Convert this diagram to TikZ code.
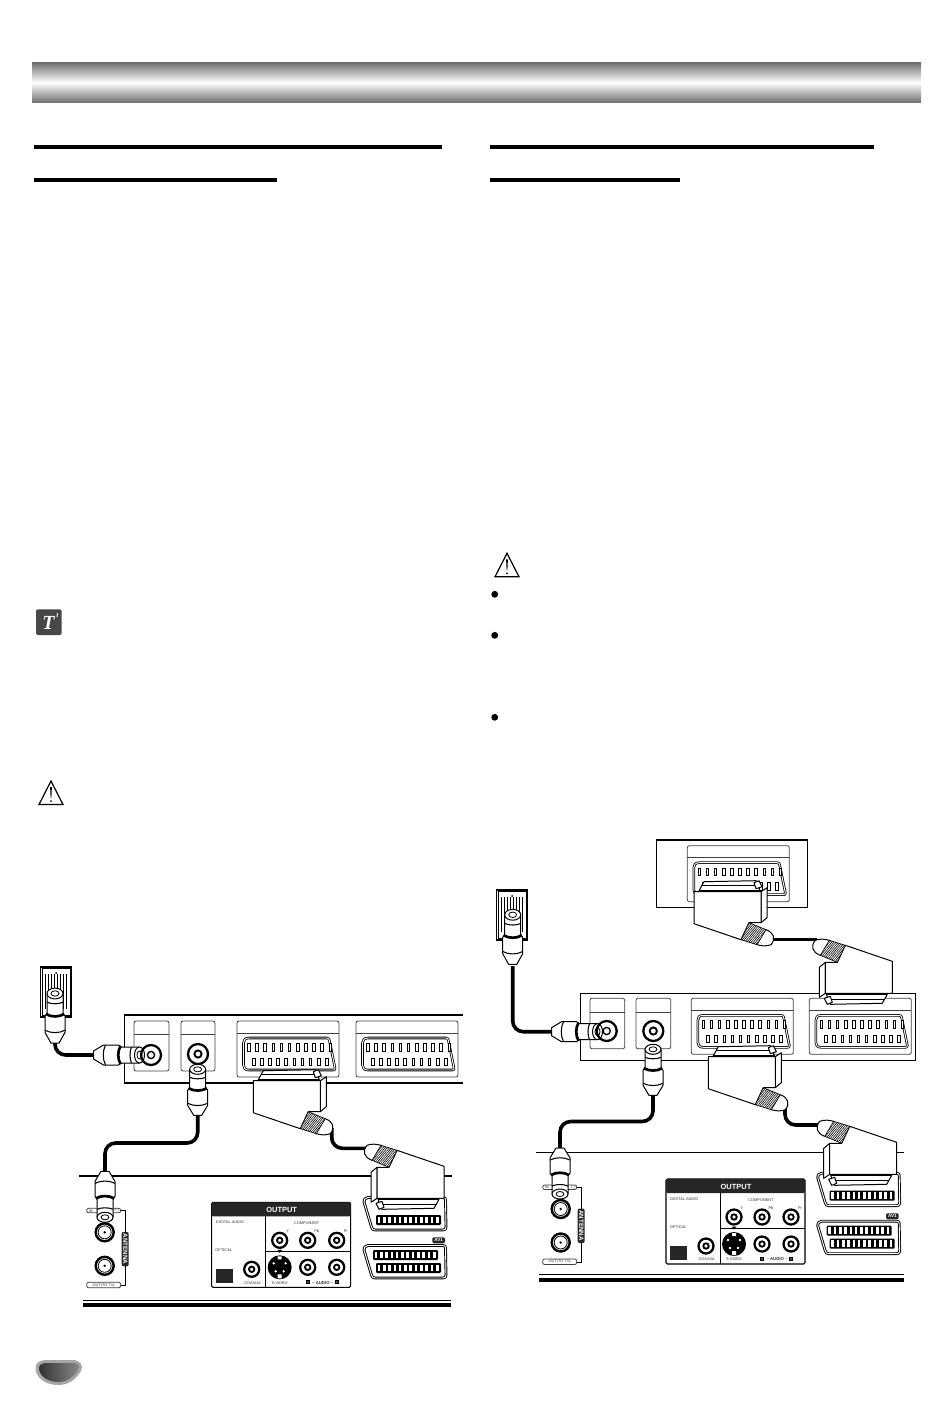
\documentclass[tikz,border=0pt]{standalone}
\usepackage{fontspec}
\setmainfont{Liberation Sans}
\newfontfamily\iconfont{Liberation Serif}
\usetikzlibrary{patterns.meta}
\tikzset{
  rule/.style={fill=black},
  cable/.style={line width=2.7pt,rounded corners=8pt},
  thinbox/.style={draw=black!75,line width=.6pt,rounded corners=1.5pt,fill=white},
  outline/.style={draw=black,line width=.75pt,line join=round,fill=white},
  socket/.style={draw=black,double=white,double distance=.7pt,line width=.6pt,line join=round,fill=white},
  pin/.style={draw=black,line width=.7pt,fill=white},
  lab/.style={font=\fontsize{2.9}{3}\selectfont,inner sep=0pt,text=black!80},
  whitelab/.style={font=\fontsize{3.4}{4}\selectfont\bfseries,inner sep=0pt,text=white},
}
\newcommand{\warnSign}[2]{\begin{scope}[shift={(#1,#2)}]
\draw[line width=.9pt,line join=miter] (-12,23.5) -- (0,0) -- (12,23.5) -- cycle;
\fill (-.9,6) -- (.9,6) -- (.35,17) -- (-.35,17) -- cycle;
\fill (0,20) circle[radius=1];
\end{scope}}
\newcommand{\jack}[3]{\draw[line width=1.7pt,fill=white] (#1,#2) circle[radius=#3];
\draw[line width=1.4pt] (#1,#2) circle[radius=.36*#3];}
\newcommand{\portRing}[3]{\draw[line width=1.7pt] (#1,#2) circle[radius=#3];
\draw[line width=1pt] (#1,#2) circle[radius=.36*#3];}
\newcommand{\coaxPlug}[4][]{\begin{scope}[shift={(#2,#3)},rotate=#4,#1]
\draw[outline] (-8,6) -- (-8,24) -- (-10,27) -- (-10,42) -- (-4,52) -- (4,52) -- (10,42) -- (10,27) -- (8,24) -- (8,6) -- cycle;
\draw[outline] (0,6) ellipse[x radius=8,y radius=5];
\draw[line width=.6pt] (0,6) ellipse[x radius=4,y radius=2.5];
\draw[line width=2pt] (-9,25) .. controls (-4,28) and (4,28) .. (9,25);
\draw[line width=.8pt] (-8,14) .. controls (-4,16) and (4,16) .. (8,14);
\draw[line width=.8pt] (-10,40) .. controls (-4,43) and (4,43) .. (10,40);
\end{scope}}
\newcommand{\scartPlug}[3]{\begin{scope}[shift={(#1,#2)},rotate=#3]
\draw[outline] (5,-1) -- (10,-10) -- (62,-11) -- (66,-1) -- cycle;
\draw[line width=.5pt] (8,-6) -- (63,-6);
\draw[outline] (62,-3) -- (68,-5) -- (65,-11) -- (60,-9) -- cycle;
\draw[outline] (67,0) -- (73,-4) -- (73,26) -- (67,31) -- cycle;
\draw[outline] (0,0) -- (67,0) -- (67,31) -- (55,31) -- (47,48) -- (0,32) -- cycle;
\draw[outline] (72,38) .. controls (80,41) and (82,47) .. (77,53) .. controls (72,55) and (67,54) .. (63,53);
\draw[line width=.5pt,pattern={Lines[angle=50,distance=1.25pt,line width=.45pt]},preaction={fill=white}] (55,31) -- (72,38) -- (63,53) -- (47,48) -- cycle;
\end{scope}}
\newcommand{\scartJack}[2]{\begin{scope}[shift={(#1,#2)}]
\draw[thinbox] (0,0) rectangle (102,56);
\draw[draw=black!75,line width=.6pt] (0,12) -- (102,12);
\draw[socket] (50,17) -- (90,17) .. controls (92,17) and (92,18) .. (92.5,20) -- (98,47) .. controls (98.5,49) and (97,49) .. (96,49) -- (12,49) .. controls (8,49) and (6.5,47) .. (6.5,44) -- (6.5,22) .. controls (6.5,19) and (8,17) .. (12,17) -- cycle;
\foreach \i in {0,...,10} \draw[pin] ({10.7+\i*8.13},22.5) rectangle +(2.6,7.5);
\foreach \i in {0,...,9} \draw[pin] ({15.4+\i*8.13},37) rectangle +(2.6,7.5);
\end{scope}}
\newcommand{\avPins}[2]{\fill[rounded corners=.8pt] (#1,#2) rectangle +(65,10);
\foreach \i in {0,...,11} \fill[white] ({#1+1.6+\i*5.3},#2+1.7) rectangle +(2.6,6.6);}
\newcommand{\avSocket}[2]{\begin{scope}[shift={(#1,#2)}]
\draw[socket,line width=.7pt] (40,.5) -- (80,.5) .. controls (82,.5) and (82.5,1.5) .. (82.5,3) -- (83,30) .. controls (83,32) and (82,33) .. (80,33) -- (12,33) .. controls (10,33) and (9,32) .. (8.5,30) -- (1,5) .. controls (.5,3) and (2,.5) .. (5,.5) -- cycle;
\avPins{13}{18}
\end{scope}}
\newcommand{\outputPanel}[3]{\begin{scope}[shift={(#1,#2)}]
\draw[line width=.8pt,rounded corners=1pt,fill=white] (0,0) rectangle (139,85);
\fill[black!85,rounded corners=1pt] (0,0) rectangle (139,14);
\node[font=\fontsize{5.6}{6}\selectfont\bfseries,text=white,inner sep=0pt] (#3head) at (70,7.5) {OUTPUT};
\draw[line width=.7pt] (54,14) -- (54,85) (54,49) -- (139,49);
\node[lab,anchor=west] (#3dig) at (4,20) {DIGITAL AUDIO};
\node[lab,anchor=west] (#3opt) at (3.5,48) {OPTICAL};
\fill[black!85] (4,67) rectangle (21,81);
\jack{40}{67}{7.5}
\node[lab] (#3coax) at (41,80.5) {COAXIAL};
\node[lab] (#3comp) at (95,21) {COMPONENT};
\jack{68}{38}{7.5} \jack{96}{38}{7.5} \jack{125}{38}{7.5}
\node[lab] (#3y) at (76,29) {Y};
\node[lab] (#3pb) at (105,29) {Pb};
\node[lab] (#3pr) at (134,29) {Pr};
\fill (68,65) circle[radius=12];
\fill[white] (62,61) circle[radius=1.3] (74,61) circle[radius=1.3] (64,69) circle[radius=1.3] (72,69) circle[radius=1.3] (66,54) rectangle (70,57) (66,72) rectangle (70,76);
\fill (65.5,47.5) -- (70.5,47.5) -- (68,50.5) -- cycle;
\node[lab] (#3svid) at (68,80.5) {S-VIDEO};
\jack{96}{65}{7.5} \jack{125}{65}{7.5}
\draw[line width=.7pt,fill=black!70] (94.5,78.5) rectangle +(3,3) (123.5,78.5) rectangle +(3,3);
\node[lab,font=\fontsize{3.2}{4}\selectfont\bfseries] (#3audio) at (111,80.5) {– AUDIO –};
\end{scope}}
\newcommand{\antennaBlock}[3]{\begin{scope}[shift={(#1,#2)}]
\draw[line width=.6pt] (16,-21.5) -- (20.5,-21.5) -- (20.5,53) -- (16,53);
\draw[thinbox] (-18,-24) rectangle (16,-19.5);
\draw[thinbox] (-18,50) rectangle (16,55.5);
\node[lab] (#3in) at (-14,-21.5) {IN};
\node[lab] (#3tail) at (12,-21.5) {T.)};
\node[lab] (#3out) at (-1,52.8) {OUT(TO TV)};
\draw[line width=1.8pt,fill=white] (0,0) circle[radius=9];
\draw[line width=.6pt] (0,0) circle[radius=6.5];
\fill (0,0) circle[radius=1.3];
\draw[line width=1.8pt,fill=white] (0,33.5) circle[radius=9];
\draw[line width=.6pt] (0,33.5) circle[radius=6.5];
\fill (0,33.5) circle[radius=1.3];
\fill[black!85,rounded corners=1.5pt] (17,-.5) rectangle (24,34);
\node[whitelab,font=\fontsize{4.7}{5}\selectfont\bfseries,rotate=-90] (#3ant) at (20.5,16.7) {ANTENNA};
\end{scope}}
\newcommand{\wallPlate}[2]{\begin{scope}[shift={(#1,#2)}]
\draw[line width=.8pt,fill=white] (0,0) rectangle (31,50);
\draw[line width=.4pt] (1.5,1.5) rectangle (29.5,48.5);
\foreach \i in {5,8,...,26} \draw[line width=.45pt] (\i,7) -- (\i,42);
\fill (15.5,6) circle[radius=1];
\end{scope}}
\begin{document}
\begin{tikzpicture}[x=.75pt,y=-.75pt]
\useasboundingbox (0,0) rectangle (950,1420);
\shade[top color=black!55,bottom color=black!55,middle color=white] (32,63) rectangle (921,102);
\fill[rule] (34,145) rectangle (442,149.3);
\fill[rule] (34,178) rectangle (277,182.3);
\fill[rule] (490,145) rectangle (874,149.3);
\fill[rule] (490,178) rectangle (680,182.3);
\fill[black!72,rounded corners=1.5pt] (36,609.3) rectangle (61.7,635);
\node[font=\fontsize{15}{16}\iconfont\bfseries\itshape,text=white,inner sep=0pt] (tipicon) at (48.5,622.5) {T};
\draw[white,line width=.7pt] (57.5,613) -- (57,617);
\warnSign{51}{781}
\warnSign{507}{553.3}
\fill (494.7,594.3) circle[radius=3.4];
\fill (494.7,635.3) circle[radius=3.4];
\fill (494.7,717.3) circle[radius=3.4];
% left connection
\draw[line width=.8pt] (463,1015) -- (124.3,1015) -- (124.3,1083) -- (463,1083);
\draw[thinbox] (134,1021) rectangle (169,1071);
\draw[thinbox] (181,1021) rectangle (215,1071);
\draw[draw=black!75,line width=.6pt] (134,1034.5) -- (169,1034.5) (181,1034.5) -- (215,1034.5);
\scartJack{237}{1021}
\scartJack{356}{1021}
\jack{198}{1054}{10}
\fill[rule] (79.3,1175.3) rectangle (451.7,1177);
\fill[rule] (83,1299.5) rectangle (451,1301.2);
\fill[rule] (83,1302.5) rectangle (451,1306.5);
\wallPlate{40.7}{967}
\antennaBlock{104.7}{1232.3}{l}
\outputPanel{211.7}{1202.3}{l}
\avSocket{363}{1197}
\avSocket{363}{1245}
\avPins{373}{1250}
\fill[black!85,rounded corners=1pt] (432.3,1237.3) rectangle (445,1243.3);
\node[whitelab] (lav) at (438.6,1240.3) {AV1};
\coordinate (lwall) at (55,1042);
\coordinate (lin) at (98,1055);
\coordinate (lout) at (197.7,1114);
\coordinate (lbend) at (105,1143);
\coordinate (ltv) at (105,1172);
\coordinate (lscartA) at (331.7,1128);
\coordinate (lscartB) at (366,1148.3);
\draw[cable] (lwall) |- (lin);
\draw[cable] (lout) |- (lbend) -- (ltv);
\draw[cable] (lscartA) |- (lscartB);
\coaxPlug[yscale=1.08]{55}{987}{0}
\coaxPlug{145.5}{1055}{-90}
\portRing{151}{1055}{10}
\coaxPlug{197.7}{1063.3}{0}
\coaxPlug{105}{1223.3}{180}
\scartPlug{253.3}{1080.7}{0}
\scartPlug{444}{1198.3}{180}
% right connection
\draw[line width=.8pt] (656.3,840) rectangle (807.7,907.7);
\scartJack{687.3}{845.7}
\draw[line width=.8pt] (580.3,993.3) rectangle (915.7,1060.7);
\draw[thinbox] (590,998.3) rectangle (624.7,1048.7);
\draw[thinbox] (636,998.3) rectangle (670.7,1048.7);
\draw[draw=black!75,line width=.6pt] (590,1012) -- (624.7,1012) (636,1012) -- (670.7,1012);
\scartJack{691.3}{998.3}
\scartJack{809.3}{998.3}
\jack{653.3}{1031}{10}
\fill[rule] (535.7,1151.8) rectangle (904,1152.9);
\fill[rule] (539.3,1273.8) rectangle (904,1274.9);
\fill[rule] (539.3,1278) rectangle (904,1282);
\wallPlate{496.7}{890}
\antennaBlock{560.7}{1209}{r}
\outputPanel{666}{1179}{r}
\avSocket{816.7}{1172.7}
\avSocket{816.7}{1220.7}
\avPins{826.7}{1225.7}
\fill[black!85,rounded corners=1pt] (886,1213.3) rectangle (898.7,1219.3);
\node[whitelab] (rav) at (892.4,1216.3) {AV1};
\coordinate (rwall) at (512.7,966);
\coordinate (rin) at (555,1031.7);
\coordinate (rout) at (653,1092);
\coordinate (rbend) at (560,1121.5);
\coordinate (rtv) at (560,1149);
\coordinate (rscartA) at (785,1107);
\coordinate (rscartB) at (820,1125);
\coordinate (rtvA) at (770,939.3);
\coordinate (rtvB) at (817,939.3);
\draw[cable] (rwall) |- (rin);
\draw[cable] (rout) |- (rbend) -- (rtv);
\draw[cable] (rscartA) |- (rscartB);
\draw[cable] (rtvA) -- (rtvB);
\coaxPlug[yscale=1.08]{512.7}{908.3}{0}
\coaxPlug{603.5}{1031.7}{-90}
\portRing{606.7}{1031}{10}
\coaxPlug{653}{1043.3}{0}
\coaxPlug{560}{1200}{180}
\scartPlug{694}{891.7}{0}
\scartPlug{892.3}{993.3}{180}
\scartPlug{708.3}{1056.7}{0}
\scartPlug{896.7}{1174.3}{180}
% page tab
\fill[black!35] (35.5,1368) .. controls (35.5,1362) and (41,1360) .. (46,1360) -- (72,1360) .. controls (80,1360) and (84,1365) .. (81,1371) .. controls (75,1381) and (67,1385) .. (58,1385) .. controls (46,1385) and (35.5,1378) .. (35.5,1368) -- cycle;
\shade[left color=black!80,right color=black!45] (39,1368) .. controls (39,1364) and (43,1363) .. (47,1363) -- (72,1363) .. controls (79,1363) and (81,1366) .. (78,1370) .. controls (73,1378) and (66,1382) .. (58,1382) .. controls (48,1382) and (39,1376) .. (39,1368) -- cycle;
\end{tikzpicture}
\end{document}
